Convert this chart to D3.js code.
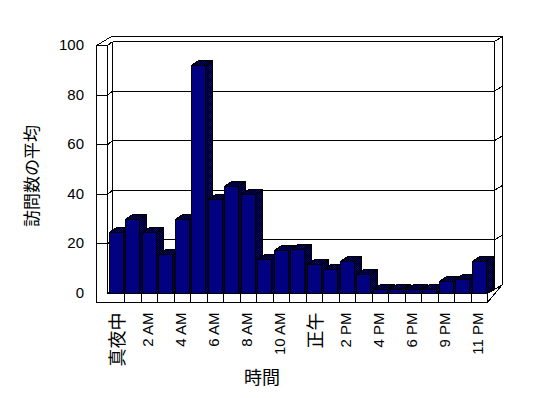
<!DOCTYPE html>
<html>
<head>
<meta charset="utf-8">
<script src="https://cdn.jsdelivr.net/npm/d3@7"></script>
<style>
  body { margin: 0; background: #fff; }
  svg { display: block; }
  .frame line, .frame path { stroke: #000; stroke-width: 1; fill: none; shape-rendering: crispEdges; }
  .lat { font-family: "Liberation Sans", Arial, sans-serif; font-size: 15px; }
  .cjk { font-family: "Noto Sans CJK JP", sans-serif; font-size: 18px; }
</style>
</head>
<body>
<div id="chart"></div>
<script>
// hours shown on the category axis (one evening hour is missing in the source)
var hours = ["真夜中", "1 AM", "2 AM", "3 AM", "4 AM", "5 AM", "6 AM", "7 AM", "8 AM", "9 AM",
             "10 AM", "11 AM", "正午", "1 PM", "2 PM", "3 PM", "4 PM", "5 PM", "6 PM", "8 PM",
             "9 PM", "10 PM", "11 PM"];
var visits = [25, 30, 25, 16, 30, 92, 38, 43.5, 40, 14, 17.5, 18, 12, 10, 13, 8, 2, 2, 2, 2, 5, 6, 13];
var yTicks = [0, 20, 40, 60, 80, 100];
var yTitle = "訪問数の平均";
var xTitle = "時間";

var W = 548, H = 398;
var svg = d3.select("#chart").append("svg")
    .attr("width", W)
    .attr("height", H);

// dithered navy/black fill for the top and side faces
var pat = svg.append("defs").append("pattern")
    .attr("id", "dith")
    .attr("width", 2).attr("height", 2)
    .attr("patternUnits", "userSpaceOnUse");
pat.append("rect").attr("width", 2).attr("height", 2).attr("fill", "#000080");
pat.append("rect").attr("x", 0).attr("y", 0).attr("width", 1).attr("height", 1).attr("fill", "#000");
pat.append("rect").attr("x", 1).attr("y", 1).attr("width", 1).attr("height", 1).attr("fill", "#000");

// front plane
var x0 = 107.5, x1 = 487.5, wallL = 96.5, floorBot = 302.5;
var x = d3.scaleBand().domain(hours).range([x0, x1]).padding(0);
var y = d3.scaleLinear().domain([0, 100]).range([293.5, 45.5]);

// depth offsets
var gIn = {dx: 5, dy: -4},      // inner face of back wall
    gOut = {dx: 15, dy: -9},    // outer back edge
    bd = {dx: 7, dy: -5};       // bar depth

var inL = x0 + gIn.dx, inR = x1 + 7, outR = x1 + gOut.dx, outT = y(100) + gOut.dy;

var frame = svg.append("g").attr("class", "frame");

// outline of the walls
frame.append("path").attr("d",
    "M" + wallL + "," + floorBot + "V" + y(100) +
    "L" + (wallL + gOut.dx) + "," + outT + "H" + outR +
    "V" + (y(0) + gOut.dy) + "L" + x1 + "," + floorBot + "Z");
frame.append("line").attr("x1", x0).attr("x2", x0).attr("y1", y(100)).attr("y2", y(0));
frame.append("line").attr("x1", inL).attr("x2", inL).attr("y1", y(100) + gIn.dy).attr("y2", y(0) + gIn.dy);
frame.append("line").attr("x1", inR).attr("x2", inR).attr("y1", y(100) + gIn.dy).attr("y2", y(0) + gIn.dy);

// gridlines around left wall, back wall and the right edge
yTicks.forEach(function(v) {
    var yy = y(v), yb = yy + gIn.dy;
    if (v > 0) {
        frame.append("line").attr("x1", wallL).attr("x2", x0).attr("y1", yy).attr("y2", yy);
    }
    frame.append("line").attr("x1", x0).attr("x2", inL).attr("y1", yy).attr("y2", yb);
    frame.append("line").attr("x1", inL).attr("x2", inR).attr("y1", yb).attr("y2", yb);
    frame.append("line").attr("x1", inR).attr("x2", outR).attr("y1", yb).attr("y2", yb - 5);
});

// floor front face
frame.append("line").attr("x1", x0).attr("x2", x1).attr("y1", y(0)).attr("y2", y(0));
frame.append("line").attr("x1", x1).attr("x2", x1).attr("y1", y(0)).attr("y2", floorBot);
frame.append("line").attr("x1", x1).attr("x2", inR).attr("y1", y(0)).attr("y2", y(0) + gIn.dy);
hours.forEach(function(h, i) {
    if (i === 0) return;
    var xx = Math.round(x(h)) + 0.5;
    frame.append("line").attr("x1", xx).attr("x2", xx).attr("y1", y(0)).attr("y2", floorBot);
});

// bars, drawn left to right so each front face hides the previous side
var bw = 14;
var bars = svg.append("g").attr("class", "bars")
    .attr("stroke", "#000").attr("stroke-width", 1)
    .style("shape-rendering", "crispEdges");
hours.forEach(function(h, i) {
    var bx = Math.round(x(h)) + 1.5, bt = Math.round(y(visits[i])) + 0.5, b0 = y(0);
    var g = bars.append("g");
    g.append("path").attr("fill", "url(#dith)").attr("d",
        "M" + bx + "," + bt + "L" + (bx + bd.dx) + "," + (bt + bd.dy) +
        "H" + (bx + bw + bd.dx) + "L" + (bx + bw) + "," + bt + "Z");
    g.append("path").attr("fill", "url(#dith)").attr("d",
        "M" + (bx + bw) + "," + bt + "L" + (bx + bw + bd.dx) + "," + (bt + bd.dy) +
        "V" + (b0 + bd.dy) + "L" + (bx + bw) + "," + b0 + "Z");
    g.append("rect").attr("fill", "#000080")
        .attr("x", bx).attr("y", bt).attr("width", bw).attr("height", b0 - bt);
});

// y tick labels
svg.append("g").selectAll("text")
    .data(yTicks)
    .enter().append("text")
    .attr("class", "lat")
    .attr("x", 84)
    .attr("y", function(d) { return y(d) - 1; })
    .attr("text-anchor", "end")
    .attr("dominant-baseline", "central")
    .text(function(d) { return d; });

// category labels, every second hour, rotated
var isCjk = function(s) { return /[^\x00-\x7F]/.test(s); };
svg.append("g").selectAll("text")
    .data(hours.filter(function(h, i) { return i % 2 === 0; }))
    .enter().append("text")
    .attr("class", function(d) { return isCjk(d) ? "cjk" : "lat"; })
    .attr("text-anchor", "end")
    .attr("dominant-baseline", "central")
    .attr("transform", function(d) {
        var cx = x(d) + x.bandwidth() / 2 - (isCjk(d) ? 0 : 1.5);
        return "translate(" + cx + ",312.5) rotate(-90)";
    })
    .text(function(d) { return d; });

// axis titles
svg.append("text")
    .attr("class", "cjk")
    .style("font-size", "17px")
    .attr("text-anchor", "middle")
    .attr("dominant-baseline", "central")
    .attr("transform", "translate(30,176) rotate(-90)")
    .text(yTitle);

svg.append("text")
    .attr("class", "cjk")
    .attr("x", 262)
    .attr("y", 376)
    .attr("text-anchor", "middle")
    .attr("dominant-baseline", "central")
    .text(xTitle);
</script>
</body>
</html>
